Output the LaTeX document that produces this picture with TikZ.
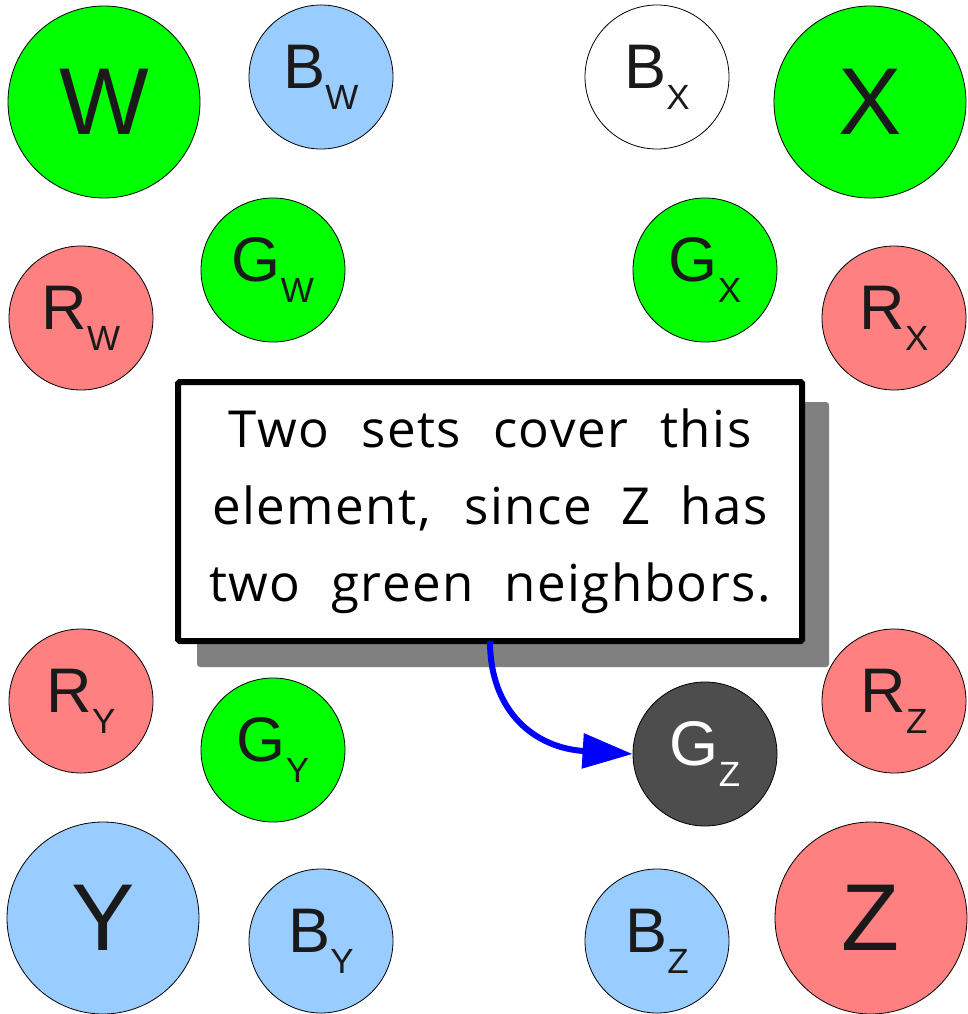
\documentclass[tikz,border=0pt]{standalone}
\usepackage{fontspec}
\setmainfont{Liberation Sans}
\newfontfamily\handfont{Open Sans}[LetterSpace=3]
\usetikzlibrary{arrows.meta}
\definecolor{cgreen}{HTML}{00FF00}
\definecolor{cblue}{HTML}{99CCFF}
\definecolor{cred}{HTML}{FF8080}
\definecolor{cdark}{HTML}{4D4D4D}
\definecolor{ctext}{HTML}{1A1A1A}
\definecolor{cshadow}{HTML}{808080}
\newcommand\sublab[2]{{\fontsize{63}{63}\selectfont #1\raisebox{-21pt}{\fontsize{35}{35}\selectfont #2}}}
\newcommand\biglab[1]{{\fontsize{95}{95}\selectfont #1}}
\begin{document}
\begin{tikzpicture}[x=1pt,y=-1pt,
  circ/.style={circle, draw=black, line width=0.8pt, inner sep=0pt, text=ctext},
  bigc/.style={circ, minimum size=192pt},
  smallc/.style={circ, minimum size=144pt},
  notebox/.style={draw=black, fill=white, line width=6pt, rounded corners=1.5pt,
    minimum width=624pt, minimum height=259pt, inner sep=0pt, align=center,
    font=\handfont\fontsize{51}{77}\selectfont},
  arrowline/.style={draw=blue, line width=6pt, -{Triangle[length=50pt,width=34pt]}}]
\useasboundingbox[fill=white] (0,0) rectangle (967,1014);
% circles
\node[bigc, fill=cgreen] (W) at (104,102) {\biglab{W}};
\node[smallc, fill=cblue] (BW) at (321,77) {\sublab{B}{W}};
\node[smallc, fill=cgreen] (GW) at (273,270) {\sublab{G}{W}};
\node[smallc, fill=cred] (RW) at (81,318) {\sublab{R}{W}};
\node[smallc, fill=white] (BX) at (657,77) {\sublab{B}{X}};
\node[bigc, fill=cgreen] (X) at (870,102) {\biglab{X}};
\node[smallc, fill=cgreen] (GX) at (705,270) {\sublab{G}{X}};
\node[smallc, fill=cred] (RX) at (894,318) {\sublab{R}{X}};
\node[smallc, fill=cred] (RY) at (81,701) {\sublab{R}{Y}};
\node[smallc, fill=cgreen] (GY) at (273,750) {\sublab{G}{Y}};
\node[smallc, fill=cdark, text=white] (GZ) at (705,754) {\sublab{G}{Z}};
\node[smallc, fill=cred] (RZ) at (894,701) {\sublab{R}{Z}};
\node[bigc, fill=cblue] (Y) at (103,918) {\biglab{Y}};
\node[smallc, fill=cblue] (BY) at (321,941) {\sublab{B}{Y}};
\node[smallc, fill=cblue] (BZ) at (657,941) {\sublab{B}{Z}};
\node[bigc, fill=cred] (Z) at (871,918) {\biglab{Z}};
% shadow and note
\fill[cshadow, rounded corners=3pt] (197,402) rectangle (829,667);
\node[notebox] (note) at (490,511.5)
  {\makebox[523pt][s]{Two sets cover this}\\
   \makebox[556pt][s]{element, since Z has}\\
   \makebox[562pt][s]{two green neighbors.}};
\coordinate (start) at (490,641);
\draw[arrowline] (start) .. controls (490,712) and (535,748) .. (GZ.west);
\end{tikzpicture}
\end{document}
